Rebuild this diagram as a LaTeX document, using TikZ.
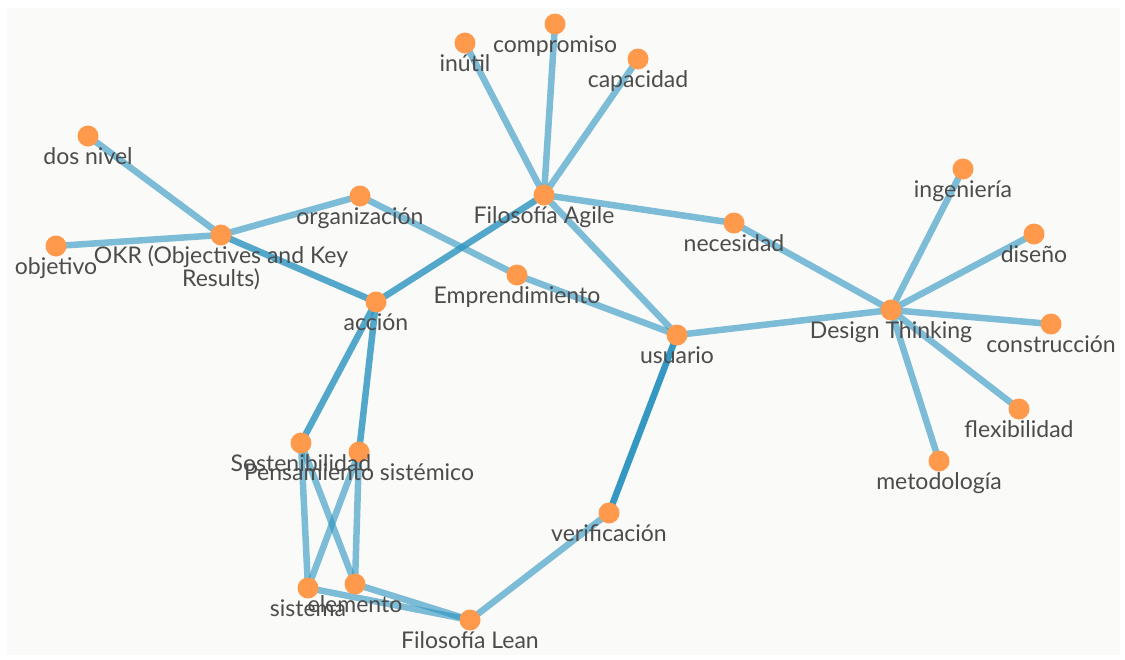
\documentclass[tikz,border=0pt]{standalone}
\usepackage{fontspec}
\setmainfont{Lato}
\definecolor{panelbg}{HTML}{FAFAF8}
\definecolor{dotorange}{HTML}{FF9A4D}
\definecolor{edgeblue}{HTML}{2A93C0}
\definecolor{labelgray}{HTML}{4C4C4C}
\tikzset{
  dot/.style={circle, fill=dotorange, minimum size=21pt, inner sep=0pt},
  lbl/.style={anchor=base, text=labelgray, inner sep=0pt, align=center,
              font=\fontsize{23}{23}\selectfont},
  weak/.style={draw=edgeblue, line width=6.5pt, draw opacity=0.6},
  mid/.style={draw=edgeblue, line width=6.5pt, draw opacity=0.8},
  strong/.style={draw=edgeblue, line width=6.5pt, draw opacity=0.95},
}
\begin{document}
\begin{tikzpicture}[x=1pt, y=-1pt]
\useasboundingbox (0,0) rectangle (1125,659);
\fill[white] (0,0) rectangle (1125,659);
\fill[panelbg] (7,8) rectangle (1120,655);

% concept dots
\foreach \n/\x/\y in {
  dos/88/136, obj/56/246, okr/221/235, org/360/196, acc/376/302,
  agile/544/195, inutil/465/43, comp/555/24, cap/638/59, nec/734/223,
  empr/517/275, usu/677/335, dt/891/310, ing/963/169, dis/1034/234,
  cons/1051/324, flex/1019/409, met/939/461, sost/301/443, pens/359/452,
  sis/308/588, ele/355/584, lean/470/620, ver/609/513}
  \coordinate (\n) at (\x,\y);

% links
\begin{scope}
\draw[weak] (dos) -- (okr);
\draw[weak] (obj) -- (okr);
\draw[weak] (okr) -- (org);
\draw[mid] (okr) -- (acc);
\draw[weak] (org) -- (empr);
\draw[weak] (empr) -- (usu);
\draw[mid] (acc) -- (agile);
\draw[weak] (agile) -- (inutil);
\draw[weak] (agile) -- (comp);
\draw[weak] (agile) -- (cap);
\draw[weak] (agile) -- (nec);
\draw[weak] (agile) -- (usu);
\draw[weak] (nec) -- (dt);
\draw[weak] (usu) -- (dt);
\draw[strong] (usu) -- (ver);
\draw[weak] (ver) -- (lean);
\draw[mid] (acc) -- (sost);
\draw[mid] (acc) -- (pens);
\draw[weak] (sost) -- (sis);
\draw[weak] (sost) -- (ele);
\draw[weak] (pens) -- (sis);
\draw[weak] (pens) -- (ele);
\draw[weak] (sis) -- (lean);
\draw[weak] (ele) -- (lean);
\draw[weak] (dt) -- (ing);
\draw[weak] (dt) -- (dis);
\draw[weak] (dt) -- (cons);
\draw[weak] (dt) -- (flex);
\draw[weak] (dt) -- (met);
\end{scope}

\foreach \n in {dos,obj,okr,org,acc,agile,inutil,comp,cap,nec,empr,usu,dt,
  ing,dis,cons,flex,met,sost,pens,sis,ele,lean,ver}
  \node[dot] (d\n) at (\n) {};

% labels, baseline a little below each dot
\tikzset{below dot/.style={yshift=-28pt}}
\node[lbl] (ldos)    at ([below dot]dos)    {dos nivel};
\node[lbl] (lobj)    at ([below dot]obj)    {objetivo};
\node[lbl] (lokr)    at ([yshift=-51pt]okr) {OKR (Objectives and Key\\Results)};
\node[lbl] (lorg)    at ([below dot]org)    {organización};
\node[lbl] (lacc)    at ([below dot]acc)    {acción};
\node[lbl] (lagile)  at ([below dot]agile)  {Filosofía Agile};
\node[lbl] (linutil) at ([below dot]inutil) {inútil};
\node[lbl] (lcomp)   at ([below dot]comp)   {compromiso};
\node[lbl] (lcap)    at ([below dot]cap)    {capacidad};
\node[lbl] (lnec)    at ([below dot]nec)    {necesidad};
\node[lbl] (lempr)   at ([below dot]empr)   {Emprendimiento};
\node[lbl] (lusu)    at ([below dot]usu)    {usuario};
\node[lbl] (ldt)     at ([below dot]dt)     {Design Thinking};
\node[lbl] (ling)    at ([below dot]ing)    {ingeniería};
\node[lbl] (ldis)    at ([below dot]dis)    {diseño};
\node[lbl] (lcons)   at ([below dot]cons)   {construcción};
\node[lbl] (lflex)   at ([below dot]flex)   {flexibilidad};
\node[lbl] (lmet)    at ([below dot]met)    {metodología};
\node[lbl] (lsost)   at ([below dot]sost)   {Sostenibilidad};
\node[lbl] (lpens)   at ([below dot]pens)   {Pensamiento sistémico};
\node[lbl] (lsis)    at ([below dot]sis)    {sistema};
\node[lbl] (lele)    at ([below dot]ele)    {elemento};
\node[lbl] (llean)   at ([below dot]lean)   {Filosofía Lean};
\node[lbl] (lver)    at ([below dot]ver)    {verificación};
\end{tikzpicture}
\end{document}
